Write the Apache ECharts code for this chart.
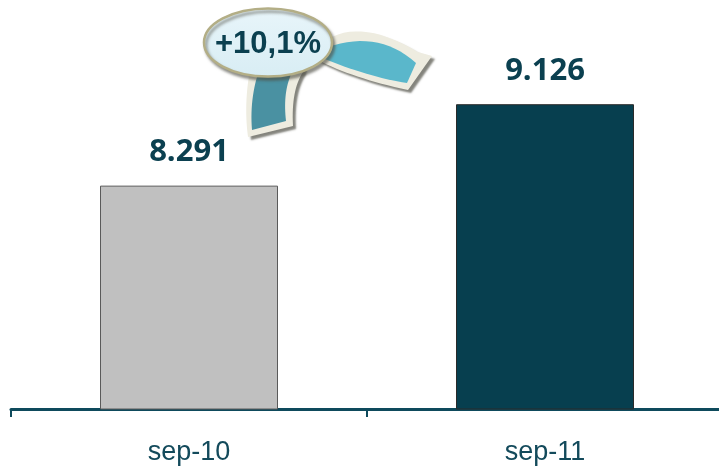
<!DOCTYPE html>
<html><head><meta charset="utf-8">
<script src="https://cdn.jsdelivr.net/npm/echarts@6/dist/echarts.min.js"></script>
<style>html,body{margin:0;padding:0;background:#fff;overflow:hidden}#c{width:723px;height:468px}</style>
</head><body><div id="c"></div>
<script>
const categories = ['sep-10', 'sep-11'];
const values = [8291, 9126];
const valueLabels = ['8.291', '9.126'];
const changeLabel = '+10,1%';
const barColors = ['#c0c0c0', '#073f4f'];

// build polygon points from segments: ['L', x, y] or ['Q', cx, cy, x, y]
function shapePts(start, segs) {
  const pts = [start.slice()];
  let cur = start.slice();
  segs.forEach(s => {
    if (s[0] === 'L') { cur = [s[1], s[2]]; pts.push(cur); }
    else {
      const c = [s[1], s[2]], e = [s[3], s[4]];
      for (let i = 1; i <= 16; i++) {
        const t = i / 16, u = 1 - t;
        pts.push([u * u * cur[0] + 2 * u * t * c[0] + t * t * e[0], u * u * cur[1] + 2 * u * t * c[1] + t * t * e[1]]);
      }
      cur = e;
    }
  });
  return pts;
}

const chart = echarts.init(document.getElementById('c'));
const teal = '#0b4050';
const shadow = { shadowColor: 'rgba(80,80,70,0.7)', shadowOffsetX: 3, shadowOffsetY: 3, shadowBlur: 2 };
chart.setOption({
  animation: false,
  grid: { left: 11, right: 0, top: 19, bottom: 59 },
  xAxis: {
    type: 'category', data: categories, boundaryGap: true,
    axisLine: { lineStyle: { color: '#0e4a5c', width: 3 } },
    axisTick: { show: true, length: 8, lineStyle: { color: '#0e4a5c', width: 2 } },
    axisLabel: { fontFamily: 'Liberation Sans', fontSize: 27, color: '#134a5b', margin: 30 }
  },
  yAxis: { type: 'value', min: 6000, max: 10000, show: false, splitLine: { show: false } },
  series: [{
    type: 'bar', barWidth: '50%',
    data: values.map((v, i) => ({
      value: v,
      itemStyle: { color: barColors[i], borderColor: i === 0 ? '#5a5a5a' : '#2a2a2a', borderWidth: 1 }
    })),
    label: {
      show: true, position: 'top', distance: 18,
      formatter: p => valueLabels[p.dataIndex],
      fontFamily: 'Open Sans', fontWeight: 'bold', fontSize: 31, lineHeight: 31, color: teal
    }
  }],
  graphic: [
    { type: 'polygon', z: 10,
      shape: { points: shapePts([252, 60], [['L', 306, 58], ['L', 303, 72], ['Q', 291, 90, 293, 126], ['L', 248, 137], ['Q', 243, 100, 252, 60]]) },
      style: Object.assign({ fill: '#eeece0' }, shadow) },
    { type: 'polygon', z: 11,
      shape: { points: shapePts([262, 62], [['L', 295, 62], ['L', 290, 77], ['Q', 283, 95, 286, 121], ['L', 252, 130], ['Q', 249, 95, 262, 62]]) },
      style: { fill: '#4a91a2' } },
    { type: 'polygon', z: 10,
      shape: { points: shapePts([318, 46], [['Q', 355, 14, 418, 52], ['L', 432, 56], ['L', 408, 90], ['Q', 352, 78, 318, 60]]) },
      style: Object.assign({ fill: '#eeece0' }, shadow) },
    { type: 'polygon', z: 11,
      shape: { points: shapePts([320, 50], [['Q', 376, 27, 416, 63], ['L', 407, 83], ['Q', 368, 77, 320, 57]]) },
      style: { fill: '#5ab7cb' } },
    { type: 'ellipse', z: 12,
      shape: { cx: 268, cy: 42.5, rx: 64, ry: 34 },
      style: {
        fill: { type: 'linear', x: 0, y: 0, x2: 0, y2: 1, colorStops: [{ offset: 0, color: '#e8f5fa' }, { offset: 1, color: '#d8edf4' }] },
        stroke: '#b3ae86', lineWidth: 2.5,
        shadowColor: 'rgba(80,80,70,0.6)', shadowOffsetX: 2, shadowOffsetY: 3, shadowBlur: 3
      } },
    { type: 'text', z: 13, x: 268, y: 44,
      style: { text: changeLabel, font: 'bold 31px "Liberation Sans"', fill: teal, align: 'center', verticalAlign: 'middle' } }
  ]
});
</script></body></html>
